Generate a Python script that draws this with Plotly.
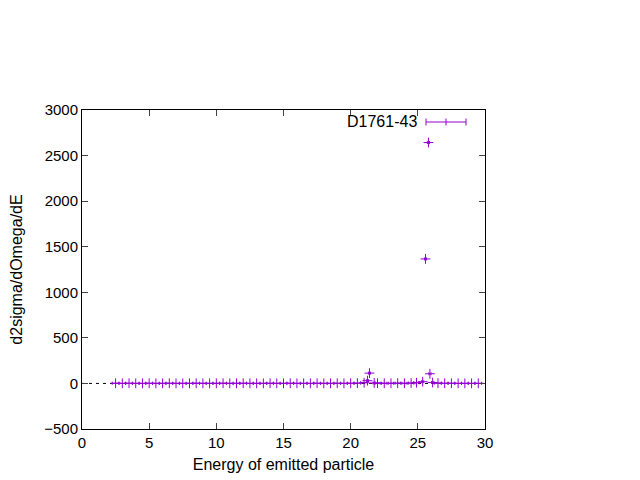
import numpy as np
import plotly.graph_objects as go

# Data
energy_low = [2.5, 3.0, 3.5, 4.0, 4.5, 5.0, 5.5, 6.0, 6.5, 7.0, 7.5, 8.0, 8.5, 9.0, 9.5,
              10.0, 10.5, 11.0, 11.5, 12.0, 12.5, 13.0, 13.5, 14.0, 14.5, 15.0, 15.5,
              16.0, 16.5, 17.0, 17.5, 18.0, 18.5, 19.0, 19.5, 20.0, 20.5, 21.0]
xs_low = [2, 1, 2, 1, 1, 2, 1, 1, 2, 1, 1, 1, 2, 1, 1, 1, 2, 1, 1, 2, 1, 1, 1, 2, 1,
          1, 2, 1, 1, 1, 2, 1, 1, 2, 1, 2, 3, 8]
energy_peak1 = [21.25, 21.4, 21.75]
xs_peak1 = [30, 113, 5]
energy_mid = [22.0, 22.5, 23.0, 23.5, 24.0, 24.5, 24.9]
xs_mid = [3, 2, 2, 3, 2, 4, 8]
energy_peak2 = [25.36, 25.57, 25.79, 25.9, 26.1]
xs_peak2 = [19, 1366, 2643, 106, 10]
energy_high = [26.5, 27.0, 27.5, 28.0, 28.5, 29.0, 29.5]
xs_high = [3, 2, 2, 1, 1, 1, 1]

energy = energy_low + energy_peak1 + energy_mid + energy_peak2 + energy_high
xsec = xs_low + xs_peak1 + xs_mid + xs_peak2 + xs_high
half_width = [0.25] * len(energy_low) + [0.08] * len(energy_peak1) + [0.2] * len(energy_mid) \
    + [0.08] * len(energy_peak2) + [0.25] * len(energy_high)

purple = "#9400D3"
font = "Liberation Sans, Arial, sans-serif"

fig = go.Figure()

# zero line
fig.add_trace(go.Scatter(x=[0, 30], y=[0, 0], mode="lines",
                         line=dict(color="black", width=1, dash="3px,4px"),
                         hoverinfo="skip", showlegend=False))

fig.add_trace(go.Scatter(
    x=energy, y=xsec, mode="markers",
    marker=dict(symbol="cross-thin", size=7, line=dict(color=purple, width=1), color=purple),
    error_x=dict(type="data", array=half_width, symmetric=True, color=purple,
                 thickness=1, width=1.5),
    showlegend=False, name="D1761-43"))

# Legend key (gnuplot style)
lx0 = (426 - 82) / 403
lx1 = (466 - 82) / 403
lxc = (446 - 82) / 403
ly = (429 - 122) / 319
tick = 3.5 / 319
for sh in [dict(x0=lx0, x1=lx1, y0=ly, y1=ly),
           dict(x0=lx0, x1=lx0, y0=ly - tick, y1=ly + tick),
           dict(x0=lx1, x1=lx1, y0=ly - tick, y1=ly + tick),
           dict(x0=lxc, x1=lxc, y0=ly - tick, y1=ly + tick)]:
    fig.add_shape(type="line", xref="paper", yref="paper",
                  line=dict(color=purple, width=1), **sh)

fig.add_annotation(x=(419 - 82) / 403, y=ly, xref="paper", yref="paper",
                   text="D1761-43", showarrow=False, xanchor="right", yanchor="middle",
                   font=dict(family=font, size=16, color="black"))

fig.update_layout(
    width=640, height=480,
    margin=dict(l=74, r=163, t=102, b=59),
    paper_bgcolor="white", plot_bgcolor="white",
    font=dict(family=font, size=13.5, color="black"),
    xaxis=dict(range=[0, 30], tickmode="array", tickvals=[0, 5, 10, 15, 20, 25, 30],
               ticks="inside", ticklen=6, mirror="allticks", showline=True,
               linecolor="black", linewidth=1, showgrid=False, zeroline=False,
               automargin=False, tickfont=dict(size=15),
               title=dict(text="Energy of emitted particle", standoff=8)),
    yaxis=dict(range=[-500, 3000], tickmode="array",
               tickvals=[-500, 0, 500, 1000, 1500, 2000, 2500, 3000],
               ticks="inside", ticklen=6, mirror="allticks", showline=True,
               linecolor="black", linewidth=1, showgrid=False, zeroline=False,
               automargin=False, tickfont=dict(size=15),
               title=dict(text="d2sigma/dOmega/dE", standoff=31)),
)

fig.write_html("out.html")
